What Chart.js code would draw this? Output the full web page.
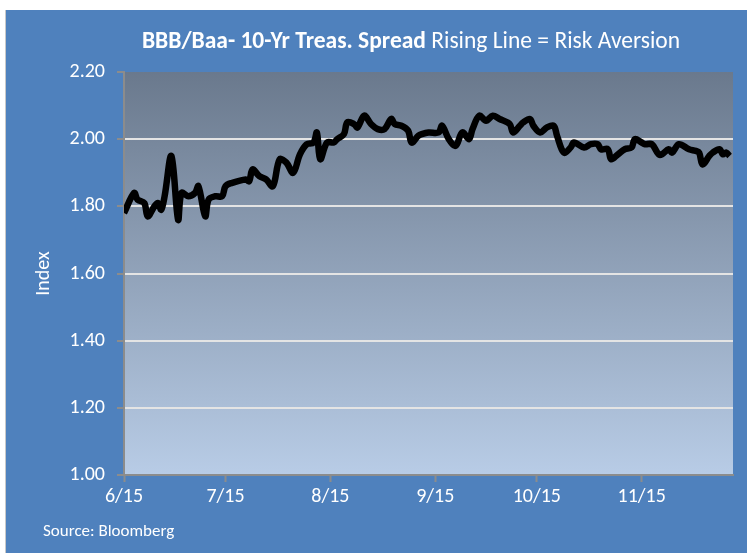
<!DOCTYPE html>
<html lang="en">
<head>
    <meta charset="UTF-8">
    <title>BBB/Baa - 10-Yr Treas. Spread</title>
    <script src="https://cdn.jsdelivr.net/npm/chart.js"></script>
    <style>
        body {
            margin: 0;
            background: white;
        }
        .chart-box {
            position: absolute;
            left: 5px;
            top: 10px;
            width: 742px;
            height: 543px;
            background: #4F81BD;
            border-left: 1px solid #c8c8c8;
            box-sizing: border-box;
        }
    </style>
</head>
<body>
    <div class="chart-box">
        <canvas id="spreadChart" width="741" height="543"></canvas>
    </div>

    <script>
        // days after 6/15 and the spread
        const days = [0, 3, 4, 6, 7, 9, 10, 11, 12, 14, 16, 17, 19, 21, 22, 24, 25, 27, 29, 30,
            32, 36, 37, 38, 40, 42, 44, 46, 48, 50, 52, 54, 56, 57, 58, 60, 62, 63, 65, 66,
            68, 69, 71, 73, 75, 77, 79, 80, 82, 84, 85, 87, 88, 90, 93, 94, 96, 98, 100, 102,
            103, 105, 107, 109, 111, 114, 115, 117, 118, 120, 121, 123, 125, 127, 128, 130, 132, 133, 136, 138,
            140, 141, 143, 144, 146, 148, 150, 151, 153, 154, 156, 158, 159, 161, 162, 164, 167, 169, 170, 171,
            173, 174, 176, 177, 178, 179];
        const spread = [1.78, 1.84, 1.82, 1.81, 1.77, 1.80, 1.81, 1.79, 1.83, 1.95, 1.76, 1.84, 1.83, 1.84, 1.86, 1.77, 1.82, 1.83, 1.83, 1.86,
            1.87, 1.88, 1.875, 1.91, 1.89, 1.88, 1.86, 1.94, 1.93, 1.90, 1.955, 1.985, 1.99, 2.02, 1.94, 1.99, 1.99, 2.00, 2.015, 2.05,
            2.045, 2.035, 2.07, 2.045, 2.03, 2.03, 2.06, 2.045, 2.04, 2.025, 1.99, 2.01, 2.015, 2.02, 2.02, 2.04, 2.00, 1.98, 2.02, 2.00,
            2.03, 2.07, 2.055, 2.07, 2.06, 2.045, 2.02, 2.04, 2.05, 2.06, 2.04, 2.02, 2.035, 2.04, 2.01, 1.96, 1.975, 1.99, 1.975, 1.985,
            1.985, 1.97, 1.97, 1.94, 1.955, 1.97, 1.975, 2.00, 1.99, 1.985, 1.985, 1.955, 1.955, 1.97, 1.96, 1.985, 1.97, 1.965, 1.96, 1.925,
            1.95, 1.96, 1.97, 1.955, 1.96, 1.95];

        // x axis ticks: mid-month dates
        const tickDays = [0, 30, 61, 92, 122, 153];
        const tickLabels = ['6/15', '7/15', '8/15', '9/15', '10/15', '11/15'];

        const FONT = 'Carlito, Calibri, Lato, sans-serif';

        // plot area gradient + title + source note
        const decorPlugin = {
            id: 'decor',
            beforeDraw(chart) {
                const { ctx, chartArea: a } = chart;
                const g = ctx.createLinearGradient(0, a.top, 0, a.bottom);
                g.addColorStop(0, '#6A798D');
                g.addColorStop(1, '#B8CCE6');
                ctx.save();
                ctx.fillStyle = g;
                ctx.fillRect(a.left, a.top, a.right - a.left, a.bottom - a.top);
                ctx.restore();
            },
            afterDraw(chart) {
                const ctx = chart.ctx;
                ctx.save();
                ctx.fillStyle = 'white';
                ctx.textBaseline = 'middle';
                const boldPart = 'BBB/Baa- 10-Yr Treas. Spread';
                const plainPart = ' Rising Line = Risk Aversion';
                ctx.font = 'bold 23.5px ' + FONT;
                const w1 = ctx.measureText(boldPart).width;
                ctx.font = '23.5px ' + FONT;
                const w2 = ctx.measureText(plainPart).width;
                let x = 405 - (w1 + w2) / 2;
                ctx.textAlign = 'left';
                ctx.font = 'bold 23.5px ' + FONT;
                ctx.fillText(boldPart, x, 32);
                ctx.font = '23.5px ' + FONT;
                ctx.fillText(plainPart, x + w1, 32);

                ctx.font = '17px ' + FONT;
                ctx.fillText('Source: Bloomberg', 37, 522);
                ctx.restore();
            }
        };

        const points = days.map((d, i) => ({ x: d, y: spread[i] }));

        new Chart(document.getElementById('spreadChart'), {
            type: 'line',
            data: {
                datasets: [{
                    label: 'BBB/Baa - 10-Yr Treas. Spread',
                    data: points,
                    borderColor: '#000000',
                    borderWidth: 6.5,
                    pointRadius: 0,
                    tension: 0.35,
                    fill: false
                }]
            },
            options: {
                responsive: false,
                animation: false,
                layout: {
                    padding: { top: 62, right: 14, left: 0, bottom: 0 }
                },
                plugins: {
                    legend: { display: false },
                    tooltip: { enabled: false }
                },
                scales: {
                    x: {
                        type: 'linear',
                        min: 0,
                        max: 180,
                        afterBuildTicks(scale) {
                            scale.ticks = tickDays.map(v => ({ value: v }));
                        },
                        afterFit(scale) {
                            scale.height = 78;
                        },
                        ticks: {
                            color: 'white',
                            font: { family: FONT, size: 20 },
                            padding: 3,
                            maxRotation: 0,
                            autoSkip: false,
                            callback: (v) => tickLabels[tickDays.indexOf(v)]
                        },
                        grid: {
                            drawOnChartArea: false,
                            drawTicks: true,
                            tickLength: 7,
                            tickColor: '#8c8c8c',
                            tickWidth: 2
                        },
                        border: { color: '#8c8c8c', width: 2 }
                    },
                    y: {
                        min: 1.0,
                        max: 2.2,
                        afterFit(scale) {
                            scale.width = 118;
                        },
                        ticks: {
                            stepSize: 0.2,
                            color: 'white',
                            font: { family: FONT, size: 20 },
                            padding: 12,
                            callback: (v) => v.toFixed(2)
                        },
                        grid: {
                            color: (c) => (c.tick.value === 1 || c.tick.value > 2.19) ? 'rgba(0,0,0,0)' : '#E4E4E4',
                            lineWidth: 2,
                            tickLength: 7,
                            tickColor: '#8c8c8c',
                            tickWidth: 2
                        },
                        border: { color: '#8c8c8c', width: 2 },
                        title: {
                            display: true,
                            text: 'Index',
                            color: 'white',
                            font: { family: FONT, size: 20 },
                            padding: { top: 26, bottom: 0 }
                        }
                    }
                }
            },
            plugins: [decorPlugin]
        });
    </script>
</body>
</html>
